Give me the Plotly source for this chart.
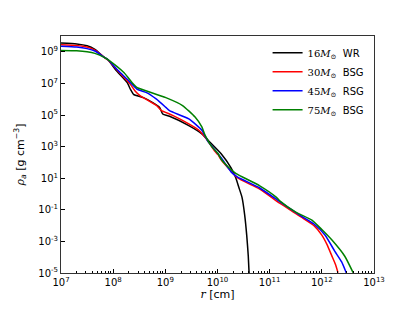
import numpy as np
import plotly.graph_objects as go

# log10 radius [cm] and log10 density [g cm^-3]
wr16_logr = [7.0, 7.3, 7.5, 7.65, 7.83, 7.9, 8.05, 8.27, 8.33, 8.39, 8.58, 8.75, 8.89, 8.95,
             9.08, 9.45, 9.70, 9.82, 10.07, 10.26, 10.35, 10.41, 10.47, 10.52, 10.56, 10.59, 10.61]
wr16_logrho = [9.55, 9.5, 9.38, 9.15, 8.65, 8.5, 7.85, 7.05, 6.63, 6.31, 6.1, 5.8, 5.48, 5.06,
               4.92, 4.33, 3.81, 3.4, 2.55, 1.66, 1.03, 0.41, -0.21, -1.3, -2.6, -3.94, -5.3]

bsg30_logr = [7.0, 7.3, 7.5, 7.65, 7.83, 7.9, 8.1, 8.33, 8.42, 8.52, 8.83, 8.92, 9.14, 9.45,
              9.64, 9.76, 9.89, 9.95, 10.01, 10.07, 10.26, 10.38, 10.81, 11.2, 11.6, 11.85,
              12.0, 12.1, 12.19, 12.26, 12.31]
bsg30_logrho = [9.45, 9.4, 9.3, 9.1, 8.65, 8.48, 7.75, 6.94, 6.52, 6.21, 5.6, 5.29, 4.98, 4.44,
                4.04, 3.6, 2.99, 2.7, 2.49, 2.17, 1.45, 1.03, 0.31, -0.6, -1.45, -2.0,
                -2.6, -3.2, -3.9, -4.45, -4.98]

rsg45_logr = [7.0, 7.3, 7.5, 7.65, 7.83, 7.9, 8.1, 8.27, 8.46, 8.64, 8.83, 9.01, 9.08, 9.45,
              9.70, 9.82, 9.95, 10.07, 10.26, 10.38, 10.81, 11.2, 11.6, 11.85, 12.06, 12.25,
              12.38, 12.47]
rsg45_logrho = [9.35, 9.3, 9.2, 9.05, 8.65, 8.5, 7.8, 7.26, 6.63, 6.42, 6.0, 5.48, 5.27, 4.75,
                4.04, 3.31, 2.79, 2.3, 1.4, 1.08, 0.38, -0.5, -1.38, -1.9, -2.6, -3.63,
                -4.3, -5.0]

bsg75_logr = [7.0, 7.3, 7.5, 7.65, 7.83, 7.9, 8.21, 8.39, 8.46, 8.64, 9.01, 9.33, 9.57, 9.70,
              9.76, 9.89, 10.01, 10.07, 10.2, 10.35, 10.81, 11.13, 11.2, 11.5, 11.81, 12.0,
              12.19, 12.44, 12.6]
bsg75_logrho = [9.08, 9.06, 9.0, 8.9, 8.65, 8.5, 7.67, 6.94, 6.73, 6.52, 6.1, 5.6, 4.87, 4.25,
                3.73, 3.0, 2.56, 2.2, 1.73, 1.31, 0.52, -0.21, -0.45, -1.15, -1.65, -2.25,
                -2.9, -3.94, -4.98]

series = [
    ("16", "WR", wr16_logr, wr16_logrho, "black"),
    ("30", "BSG", bsg30_logr, bsg30_logrho, "red"),
    ("45", "RSG", rsg45_logr, rsg45_logrho, "blue"),
    ("75", "BSG", bsg75_logr, bsg75_logrho, "green"),
]

x_exps = [7, 8, 9, 10, 11, 12, 13]
y_exps = [-5, -3, -1, 1, 3, 5, 7, 9]

fig = go.Figure()
for mass, kind, lr, lrho, color in series:
    name = ('<span style="font-family:DejaVu Serif">%s<i>M</i><sub>⊙</sub></span>  %s'
            % (mass, kind))
    fig.add_trace(go.Scatter(
        x=10 ** np.array(lr), y=10 ** np.array(lrho), mode="lines", name=name,
        line=dict(color=color, width=1.5, shape="spline", smoothing=0.5)))

axis_common = dict(
    type="log", showline=True, linecolor="#333333", linewidth=1, mirror=True,
    showgrid=False, zeroline=False, ticks="inside", ticklen=4, tickwidth=1,
    tickcolor="black", tickfont=dict(family="DejaVu Sans", size=10, color="black"),
)

fig.update_xaxes(
    **axis_common, range=[7, 13],
    tickvals=[10.0 ** e for e in x_exps],
    ticktext=["10<sup>%d</sup>" % e for e in x_exps],
    minor=dict(ticks="inside", ticklen=2, tickcolor="black", dtick="D1", showgrid=False),
    title=dict(text='<i style="font-family:DejaVu Serif">r</i> [cm]',
               font=dict(family="DejaVu Sans", size=11, color="black"), standoff=3),
)
fig.update_yaxes(
    **axis_common, range=[-5, 10],
    tickvals=[10.0 ** e for e in y_exps],
    ticktext=["10<sup>%d</sup>" % e for e in y_exps],
    title=dict(text='<i style="font-family:DejaVu Serif">ρ</i><sub><i>a</i></sub> [g cm<sup>−3</sup>]',
               font=dict(family="DejaVu Sans", size=11, color="black"), standoff=11),
)

# page body adds an 8px offset, so the figure is sized to fit the 415x311 window
fig.update_layout(
    width=407, height=303,
    margin=dict(l=44, r=41, t=28, b=35),
    paper_bgcolor="white", plot_bgcolor="white",
    showlegend=True,
    legend=dict(x=0.66, y=0.99, xanchor="left", yanchor="top",
                bgcolor="rgba(255,255,255,0)", borderwidth=0,
                font=dict(family="DejaVu Sans", size=10, color="black"),
                tracegroupgap=0),
)

fig.write_html("out.html")
